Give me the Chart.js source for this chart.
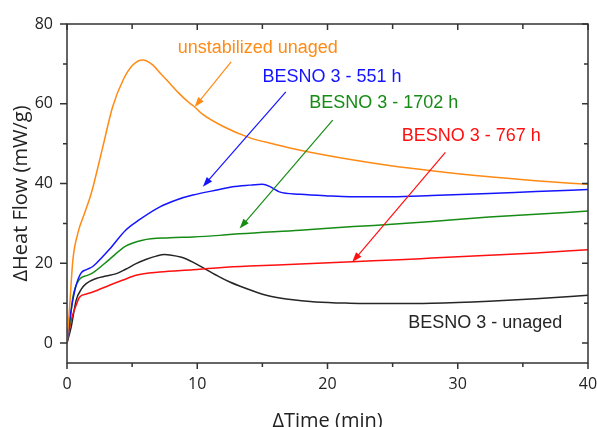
<!DOCTYPE html>
<html>
<head>
<meta charset="utf-8">
<script src="https://cdn.jsdelivr.net/npm/chart.js@4.4.1/dist/chart.umd.min.js"></script>
<style>
  html, body { margin: 0; padding: 0; background: #fff; }
</style>
</head>
<body>
<canvas id="dscChart" width="597" height="427"></canvas>
<script>
// DSC curves, heat flow (mW/g) vs time (min)
const orangeTime = [0, 0.2, 0.45, 0.83, 1.34, 1.86, 2.75, 3.5, 4.3, 5.05, 5.8, 6.6, 7.2, 7.9, 8.6, 9.4, 9.8, 10.4, 12, 14, 16, 18, 22, 25, 28, 32, 36, 40];
const orangeFlow = [0, 9, 20.8, 27.5, 32.5, 37.5, 49.2, 59.2, 65.9, 69.7, 71.0, 69.7, 67.5, 65.1, 62.6, 60.2, 59.2, 57.4, 54.3, 51.5, 49.8, 48.3, 45.9, 44.4, 43.2, 41.8, 40.7, 39.8];

const blueTime = [0, 0.2, 0.45, 0.7, 1.09, 1.5, 1.98, 2.75, 3.26, 4.5, 5.5, 7.1, 8.5, 9.66, 11.7, 12.7, 14, 15, 15.55, 16.3, 17.9, 20, 21.7, 25, 28, 32.4, 36, 40];
const blueFlow = [0, 5.7, 10.8, 14.5, 17.6, 18.4, 19.2, 21.7, 23.5, 28.3, 30.8, 34.1, 36, 37.1, 38.5, 39.2, 39.6, 39.8, 39.3, 37.9, 37.3, 36.9, 36.7, 36.7, 37.0, 37.5, 38.0, 38.5];

const greenTime = [0, 0.2, 0.45, 0.96, 1.5, 1.98, 3.26, 4.5, 5.8, 7.9, 9.66, 11.7, 13.25, 17.9, 22, 25.5, 28, 32.4, 36, 40];
const greenFlow = [0, 4.5, 11.5, 16.0, 16.9, 17.6, 21.0, 24.3, 25.8, 26.4, 26.6, 27.0, 27.4, 28.3, 29.2, 29.9, 30.5, 31.6, 32.3, 33.1];

const redTime = [0, 0.32, 0.7, 0.96, 1.5, 1.98, 3.26, 4.3, 5.3, 7.1, 9.66, 11.7, 14, 17.9, 21.9, 25.5, 28, 32.4, 36, 40];
const redFlow = [0, 5.7, 9.5, 11.5, 12.3, 12.8, 14.5, 15.8, 17.0, 17.8, 18.4, 18.9, 19.3, 19.8, 20.4, 20.9, 21.3, 22.0, 22.6, 23.4];

const blackTime = [0, 0.32, 0.7, 1.1, 1.47, 2.24, 3, 3.8, 4.5, 5.3, 6.1, 6.85, 7.5, 7.9, 8.8, 9.66, 10.5, 11.7, 12.5, 13.5, 15.3, 17, 19.1, 21.7, 25, 28, 32.4, 36, 40];
const blackFlow = [0, 4, 10.7, 13.5, 14.9, 16.2, 16.8, 17.4, 18.5, 19.9, 21.0, 21.8, 22.2, 22.1, 21.5, 20.3, 18.8, 16.6, 15.3, 14.0, 12.0, 11.0, 10.3, 10.0, 9.9, 10.0, 10.5, 11.1, 12.0];

const xTickValues = [0, 10, 20, 30, 40];
const xMinorTicks = [5, 15, 25, 35];
const yTickValues = [0, 20, 40, 60, 80];
const yMinorTicks = [10, 30, 50, 70];

const orange = '#ff8a14';
const blue = '#1414ff';
const green = '#168c16';
const red = '#ff1010';
const black = '#262626';

// labels and arrows, in data units
const notes = [
  {text: 'unstabilized unaged', color: orange, at: [8.5, 74.0], from: [12.6, 70.5], to: [9.8, 59.2]},
  {text: 'BESNO 3 - 551 h', color: blue, at: [15.0, 66.7], from: [16.8, 63.0], to: [10.43, 39.2]},
  {text: 'BESNO 3 - 1702 h', color: green, at: [18.6, 60.2], from: [20.4, 55.9], to: [13.25, 28.7]},
  {text: 'BESNO 3 - 767 h', color: red, at: [25.7, 51.8], from: [29.05, 47.8], to: [21.9, 20.3]},
  {text: 'BESNO 3 - unaged', color: black, at: [26.2, 5.1]}
];

function toPoints(xs, ys) {
  return xs.map((t, i) => ({x: t, y: ys[i]}));
}

function curve(label, xs, ys, color) {
  return {
    label: label,
    data: toPoints(xs, ys),
    borderColor: color,
    borderWidth: 1.5,
    pointRadius: 0,
    cubicInterpolationMode: 'monotone',
    fill: false
  };
}

const framePlugin = {
  id: 'frame',
  afterDraw(chart) {
    const ctx = chart.ctx;
    const a = chart.chartArea;
    const x = chart.scales.x;
    const y = chart.scales.y;
    ctx.save();
    ctx.strokeStyle = '#333';
    ctx.lineWidth = 1.5;
    ctx.strokeRect(a.left, a.top, a.right - a.left, a.bottom - a.top);
    ctx.beginPath();
    function seg(x1, y1, x2, y2) { ctx.moveTo(x1, y1); ctx.lineTo(x2, y2); }
    xTickValues.forEach(v => {
      const px = x.getPixelForValue(v);
      seg(px, a.bottom, px, a.bottom + 6);
      seg(px, a.top, px, a.top + 6);
    });
    xMinorTicks.forEach(v => {
      const px = x.getPixelForValue(v);
      seg(px, a.bottom, px, a.bottom + 4);
      seg(px, a.top, px, a.top + 5);
    });
    yTickValues.forEach(v => {
      const py = y.getPixelForValue(v);
      seg(a.left, py, a.left - 7, py);
      seg(a.right, py, a.right - 6, py);
    });
    yMinorTicks.forEach(v => {
      const py = y.getPixelForValue(v);
      seg(a.left, py, a.left - 4, py);
      seg(a.right, py, a.right - 4, py);
    });
    ctx.stroke();
    ctx.restore();
  }
};

const notesPlugin = {
  id: 'notes',
  afterDatasetsDraw(chart) {
    const ctx = chart.ctx;
    const x = chart.scales.x;
    const y = chart.scales.y;
    ctx.save();
    ctx.font = '18px "Liberation Sans", Arial, sans-serif';
    ctx.textBaseline = 'middle';
    ctx.textAlign = 'left';
    notes.forEach(n => {
      ctx.fillStyle = n.color;
      ctx.fillText(n.text, x.getPixelForValue(n.at[0]), y.getPixelForValue(n.at[1]));
      if (!n.from) return;
      const x1 = x.getPixelForValue(n.from[0]), y1 = y.getPixelForValue(n.from[1]);
      const x2 = x.getPixelForValue(n.to[0]), y2 = y.getPixelForValue(n.to[1]);
      const ang = Math.atan2(y2 - y1, x2 - x1);
      ctx.strokeStyle = n.color;
      ctx.lineWidth = 1.2;
      ctx.beginPath();
      ctx.moveTo(x1, y1);
      ctx.lineTo(x2 - 6 * Math.cos(ang), y2 - 6 * Math.sin(ang));
      ctx.stroke();
      ctx.beginPath();
      ctx.moveTo(x2, y2);
      ctx.lineTo(x2 - 10 * Math.cos(ang) + 3.5 * Math.sin(ang), y2 - 10 * Math.sin(ang) - 3.5 * Math.cos(ang));
      ctx.lineTo(x2 - 10 * Math.cos(ang) - 3.5 * Math.sin(ang), y2 - 10 * Math.sin(ang) + 3.5 * Math.cos(ang));
      ctx.closePath();
      ctx.fill();
    });
    ctx.restore();
  }
};

const tickFont = {family: '"Open Sans", sans-serif', size: 16};
const titleFont = {family: '"Open Sans", sans-serif', size: 20, lineHeight: 1};

new Chart(document.getElementById('dscChart'), {
  type: 'line',
  data: {
    datasets: [
      curve('unstabilized unaged', orangeTime, orangeFlow, orange),
      curve('BESNO 3 - 551 h', blueTime, blueFlow, blue),
      curve('BESNO 3 - 1702 h', greenTime, greenFlow, green),
      curve('BESNO 3 - 767 h', redTime, redFlow, red),
      curve('BESNO 3 - unaged', blackTime, blackFlow, black)
    ]
  },
  options: {
    responsive: false,
    animation: false,
    layout: {padding: {left: 0, top: 24, right: 9, bottom: 0}},
    plugins: {legend: {display: false}, tooltip: {enabled: false}},
    scales: {
      x: {
        type: 'linear',
        min: 0,
        max: 40,
        afterBuildTicks: s => { s.ticks = xTickValues.map(v => ({value: v})); },
        afterFit: s => { s.height = 64; s.paddingLeft = 0; s.paddingRight = 0; },
        grid: {display: false, drawTicks: false},
        border: {display: false},
        ticks: {padding: 12, color: '#222', font: tickFont, maxRotation: 0, autoSkip: false},
        title: {display: true, text: '\u0394Time (min)', color: '#222', font: titleFont, padding: {top: 0, bottom: -4}}
      },
      y: {
        type: 'linear',
        min: -5,
        max: 80,
        afterBuildTicks: s => { s.ticks = yTickValues.map(v => ({value: v})); },
        afterFit: s => { s.width = 67; },
        grid: {display: false, drawTicks: false},
        border: {display: false},
        ticks: {padding: 14, color: '#222', font: tickFont},
        title: {display: true, text: '\u0394Heat Flow (mW/g)', color: '#222', font: titleFont, padding: {top: 11.5, bottom: 0}}
      }
    }
  },
  plugins: [framePlugin, notesPlugin]
});
</script>
</body>
</html>
